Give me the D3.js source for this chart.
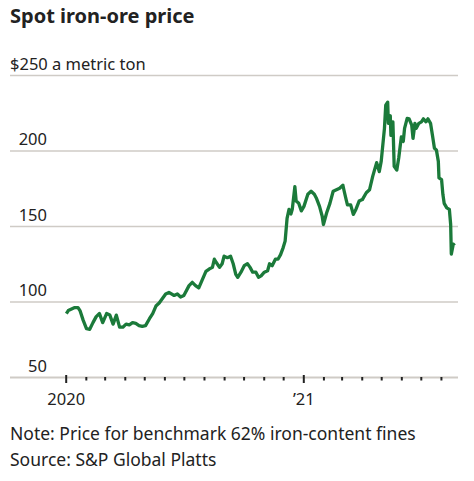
<!DOCTYPE html>
<html>
<head>
<meta charset="utf-8">
<script src="https://cdn.jsdelivr.net/npm/d3@7"></script>
<style>
  body { margin: 0; background: #fff; }
  text { font-family: "Noto Sans", "Open Sans", sans-serif; fill: #222; }
</style>
</head>
<body>
<div id="viz"></div>
<script>
// spot iron-ore price, $ a metric ton
const dates = [
  "2020-01-02","2020-01-05","2020-01-10","2020-01-15","2020-01-20","2020-01-23","2020-01-28",
  "2020-02-02","2020-02-07","2020-02-12","2020-02-17","2020-02-22","2020-02-27",
  "2020-03-04","2020-03-09","2020-03-14","2020-03-19","2020-03-24","2020-03-29",
  "2020-04-03","2020-04-08","2020-04-13","2020-04-18","2020-04-23","2020-04-28",
  "2020-05-03","2020-05-09","2020-05-14","2020-05-19","2020-05-24","2020-05-29",
  "2020-06-03","2020-06-08","2020-06-16","2020-06-21","2020-06-26",
  "2020-07-01","2020-07-09","2020-07-14","2020-07-19","2020-07-24","2020-07-29",
  "2020-08-04","2020-08-09","2020-08-14","2020-08-17","2020-08-20","2020-08-25","2020-08-29",
  "2020-09-01","2020-09-06","2020-09-11","2020-09-15","2020-09-19","2020-09-22","2020-09-27",
  "2020-10-02","2020-10-07","2020-10-11","2020-10-15","2020-10-20","2020-10-24","2020-10-28",
  "2020-11-02","2020-11-07","2020-11-10","2020-11-14","2020-11-19","2020-11-23","2020-11-27",
  "2020-12-01","2020-12-04","2020-12-07","2020-12-10","2020-12-13","2020-12-15","2020-12-19","2020-12-21","2020-12-25","2020-12-29",
  "2021-01-02","2021-01-08","2021-01-13","2021-01-18","2021-01-21","2021-01-26","2021-01-30",
  "2021-02-01","2021-02-06","2021-02-11","2021-02-16","2021-02-21","2021-02-26",
  "2021-03-03","2021-03-05","2021-03-08","2021-03-10","2021-03-15","2021-03-19","2021-03-23","2021-03-28",
  "2021-04-02","2021-04-08","2021-04-13","2021-04-18","2021-04-20","2021-04-24","2021-04-28",
  "2021-05-01","2021-05-06","2021-05-08","2021-05-11","2021-05-12","2021-05-15","2021-05-16","2021-05-19","2021-05-21","2021-05-25","2021-05-28",
  "2021-06-01","2021-06-04","2021-06-06","2021-06-10","2021-06-13","2021-06-17","2021-06-19","2021-06-22","2021-06-24","2021-06-28",
  "2021-07-02","2021-07-05","2021-07-09","2021-07-12","2021-07-16","2021-07-19","2021-07-22","2021-07-25","2021-07-28","2021-07-29",
  "2021-08-02","2021-08-04","2021-08-06","2021-08-10","2021-08-14","2021-08-16","2021-08-17","2021-08-20","2021-08-22"
];
const prices = [
  92, 94, 95, 96, 96, 94, 87.5,
  82, 81.6, 86, 90, 92, 86,
  92, 91, 85, 91, 83, 83,
  85, 84.5, 86, 85.5, 84, 83.5,
  84, 88.6, 92, 97, 99, 102,
  105, 106, 104, 105, 103,
  104, 110.5, 112.7, 110.5, 109, 114,
  120, 121.5, 122.6, 128, 125.8, 122.6, 125,
  130, 129, 130, 125, 118, 116, 119.4,
  123.7, 125, 122.6, 119.4, 119.4, 116, 117,
  119.4, 120.4, 125, 123.7, 128, 128, 131,
  135.7, 140, 155, 161, 158, 161, 176, 166.5, 165, 160,
  163, 171, 173, 171, 168.6, 163, 156.6,
  151, 158.8, 165, 173, 174, 175,
  177, 173, 167.5, 164, 164, 157.7, 161, 166.5,
  167.5, 172, 174, 183, 186, 192, 186,
  192.8, 214.7, 230, 232, 218, 223, 210, 219, 189.5, 187, 195,
  209, 206, 214.7, 221.3, 221, 216.8, 208, 218, 214.7, 218,
  219, 221, 219, 221, 218, 210, 201.5, 200.4, 192.8, 181.8,
  180.7, 171, 165, 162, 161, 151, 131.4, 138, 137
];
const yTicks = [50, 100, 150, 200, 250];
const xLabels = ["2020", "\u201921"];

const title = "Spot iron-ore price";
const unit = " a metric ton";
const note = "Note: Price for benchmark 62% iron-content fines";
const source = "Source: S&P Global Platts";

const w = 474;
const h = 481;

const parseDate = d3.timeParse("%Y-%m-%d");
const series = dates.map((d, i) => ({ date: parseDate(d), value: prices[i] }));

const svg = d3.select('#viz').
append('svg').
attr('width', w).
attr('height', h);

// scales: Jan 2020 tick at x 65.7, Jan 2021 at 303.3
const xScale = d3.scaleTime().
domain([new Date(2020, 0, 1), new Date(2021, 0, 1)]).
range([65.7, 303.3]);

const yScale = d3.scaleLinear().
domain([50, 250]).
range([377, 75]);

const gridLeft = 10;
const gridRight = 458;

// gridlines + y labels
const yAxis = d3.axisLeft(yScale).
tickValues(yTicks).
tickSize(-(gridRight - gridLeft)).
tickPadding(0);

const gy = svg.append('g').
attr('transform', 'translate(' + gridLeft + ',0)').
call(yAxis);

gy.select('.domain').remove();
gy.selectAll('.tick line').
attr('stroke', '#cfcbc6').
attr('stroke-width', d => d == 50 ? 2 : 1.5);
gy.selectAll('.tick text').
attr('x', 37).
attr('dy', -6).
attr('text-anchor', 'end').
style('font-size', '16.5px').
style('font-family', null).
attr('fill', '#222');

gy.selectAll('.tick text').
filter(d => d == 250).
text('$250' + unit).
attr('x', 0).
attr('text-anchor', 'start');

// x axis, monthly ticks
const xAxis = d3.axisBottom(xScale).
tickValues(d3.timeMonth.range(new Date(2020, 0, 1), new Date(2021, 8, 1))).
tickSize(3.5).
tickFormat(d => d.getMonth() == 0 ? (d.getFullYear() == 2020 ? xLabels[0] : xLabels[1]) : '');

const gx = svg.append('g').
attr('transform', 'translate(0,' + yScale(50) + ')').
call(xAxis);

gx.select('.domain').remove();
gx.selectAll('.tick line').
attr('stroke', '#222').
attr('stroke-width', 2).
attr('y1', d => d.getMonth() == 0 ? -2 : 0).
attr('y2', d => d.getMonth() == 0 ? 6 : 3.5);
gx.selectAll('.tick text').
attr('y', 28).
attr('dy', 0).
style('font-size', '16.5px').
style('font-family', null).
attr('fill', '#222');

// price line
const line = d3.line().
x(d => xScale(d.date)).
y(d => yScale(d.value));

svg.append('path').
datum(series).
attr('d', line).
attr('fill', 'none').
attr('stroke', '#1b7a3a').
attr('stroke-width', 3.3).
attr('stroke-linejoin', 'round');

// titles
svg.append('text').
text(title).
attr('x', 10).
attr('y', 23).
style('font-size', '20px').
style('font-weight', 'bold');

svg.append('text').
text(note).
attr('x', 10).
attr('y', 440).
style('font-size', '17.5px');

svg.append('text').
text(source).
attr('x', 10).
attr('y', 466).
style('font-size', '17.5px');
</script>
</body>
</html>
